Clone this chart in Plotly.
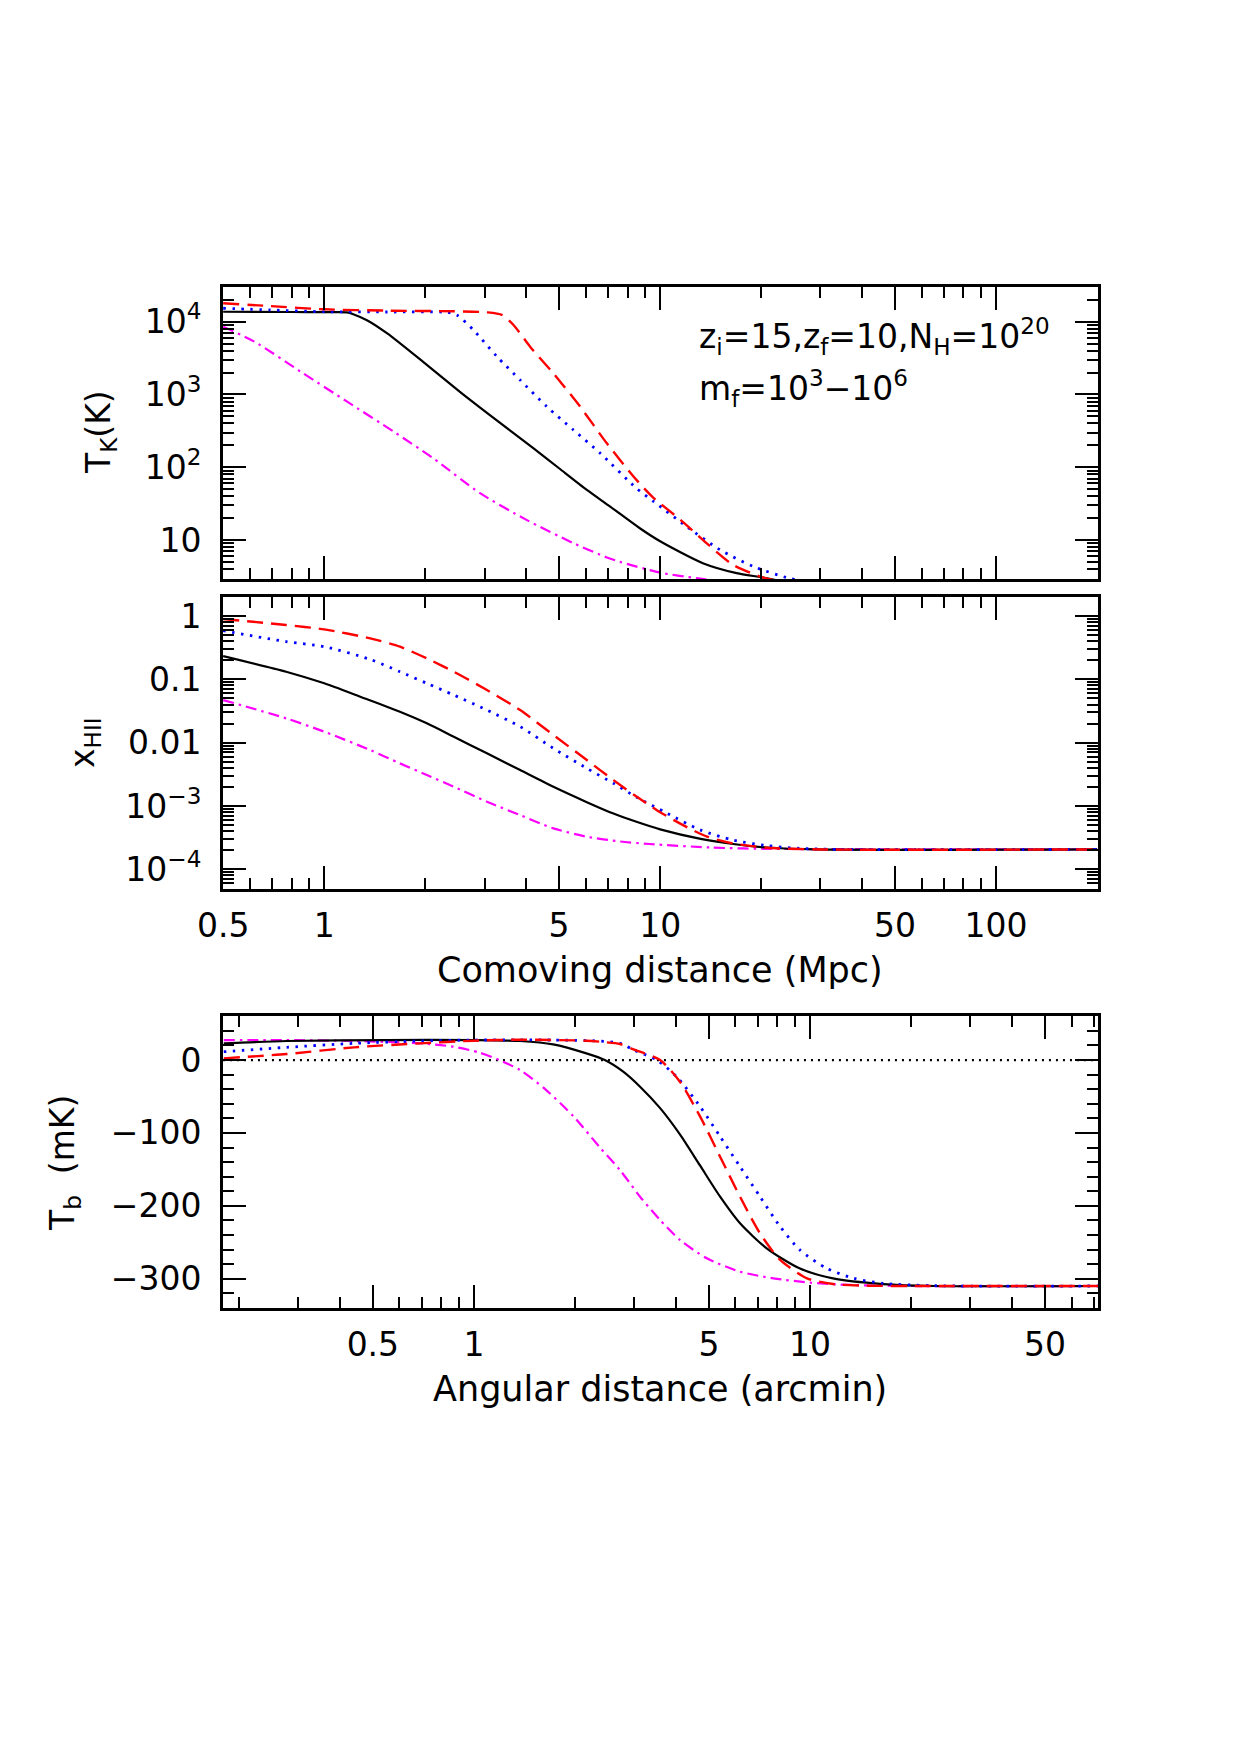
import plotly.graph_objects as go

W, H = 1240, 1755

# ---------------- data ----------------
# Panel 1: kinetic temperature T_K (K) vs comoving distance (Mpc)
tk_black_x = [0.5, 0.8, 1.0, 1.17, 1.22, 1.34, 1.54, 2.02, 2.54, 3.05, 4.2, 5.0, 6.05, 7.1, 8.7, 10, 13.4, 16.9, 20.3, 25]
tk_black_y = [13700, 13600, 13500, 13450, 12700, 10500, 6900, 2550, 1080, 560, 182, 96.8, 48.8, 28.8, 14.5, 9.6, 4.8, 3.5, 3.04, 2.5]
tk_red_x = [0.5, 0.69, 1.0, 1.54, 2.43, 3.05, 3.38, 3.66, 4.1, 4.81, 5.78, 6.94, 8.5, 9.55, 11.5, 13.8, 16.5, 20.3, 25]
tk_red_y = [17900, 16400, 14800, 14200, 13900, 13450, 12400, 9020, 4540, 1950, 679, 213, 67, 38, 18.9, 8.9, 4.55, 3.04, 2.5]
tk_blue_x = [0.5, 0.69, 1.0, 1.54, 2.32, 2.48, 2.78, 3.27, 3.83, 4.6, 5.52, 6.63, 8.5, 9.55, 12, 15.1, 19, 24.4, 30]
tk_blue_y = [15300, 14500, 13700, 13600, 13450, 12400, 7690, 3300, 1580, 679, 325, 156, 51.4, 34, 15.3, 7.3, 4.3, 2.95, 2.5]
tk_mag_x = [0.5, 0.62, 0.85, 1.17, 1.61, 2.11, 2.91, 4.0, 5.52, 6.94, 7.6, 10, 12.8, 16]
tk_mag_y = [8530, 5310, 2060, 796, 308, 133, 44, 18.9, 9.04, 5.75, 5.0, 3.56, 2.99, 2.63]

# Panel 2: ionized fraction x_HII vs comoving distance (Mpc)
xh_red_x = [0.5, 0.77, 1.0, 1.37, 1.68, 2.02, 2.43, 3.05, 3.83, 4.81, 6.05, 7.26, 8.5, 9.8, 11.7, 13.8, 16.5, 20.8, 30, 200]
xh_red_y = [0.897, 0.721, 0.615, 0.443, 0.328, 0.214, 0.132, 0.0678, 0.0327, 0.0132, 0.00531, 0.00256, 0.00141,
            0.000851, 0.000499, 0.000327, 0.000256, 0.000219, 0.000206, 0.000206]
xh_blue_x = [0.5, 0.77, 1.0, 1.37, 1.68, 2.02, 2.43, 3.05, 3.83, 4.81, 6.05, 7.26, 8.5, 10.5, 13.2, 16.5, 20.8, 26, 35, 200]
xh_blue_y = [0.586, 0.394, 0.328, 0.2065, 0.132, 0.0865, 0.0565, 0.0327, 0.0179, 0.00813, 0.00393, 0.00228, 0.00138,
             0.000764, 0.000416, 0.000289, 0.000236, 0.000214, 0.000206, 0.000206]
xh_black_x = [0.5, 0.77, 1.0, 1.28, 1.68, 2.02, 2.43, 3.05, 3.83, 4.81, 6.05, 7.26, 8.5, 10, 13.2, 16.5, 20.8, 29, 200]
xh_black_y = [0.233, 0.132, 0.0865, 0.0532, 0.0308, 0.0202, 0.0124, 0.00678, 0.00369, 0.00201, 0.00115, 0.000759,
              0.000562, 0.000427, 0.000302, 0.000251, 0.000221, 0.000206, 0.000206]
xh_mag_x = [0.5, 0.77, 1.0, 1.37, 1.68, 2.02, 2.43, 3.05, 3.83, 4.81, 6.05, 7.6, 9.3, 14.1, 20, 200]
xh_mag_y = [0.0471, 0.0242, 0.0149, 0.00764, 0.00471, 0.00308, 0.00201, 0.00117, 0.000718, 0.000443, 0.000327,
            0.000275, 0.000251, 0.000221, 0.000211, 0.000206]

# Panel 3: brightness temperature T_b (mK) vs angular distance (arcmin)
tb_black_x = [0.18, 0.277, 0.55, 1.0, 1.37, 1.72, 2.16, 2.45, 2.78, 3.12, 3.58, 4.1, 4.71, 5.4, 6.19, 7.43, 9.3, 11.7, 16.5, 23.3, 72]
tb_black_y = [22.9, 26.1, 27.4, 27.4, 26.1, 21.5, 9.1, 0, -16, -36.6, -66, -102, -145, -187.5, -224, -258.3,
              -285.7, -299.5, -307.3, -310, -310]
tb_red_x = [0.18, 0.277, 0.44, 0.69, 1.0, 1.37, 2.16, 2.37, 2.72, 2.98, 3.58, 4.1, 4.71, 5.4, 6.19, 7.1, 8.15, 9.8, 11.7, 14.7, 20, 72]
tb_red_y = [2.3, 8.2, 17.4, 22.9, 26.5, 27.9, 26.5, 25.1, 22, 14.6, 0, -29.7, -77.7, -132.6, -187.5, -237.8, -274.3,
            -299.5, -307.3, -309.6, -310, -310]
tb_blue_x = [0.18, 0.277, 0.44, 0.69, 1.0, 1.72, 2.37, 2.72, 2.98, 3.5, 4.01, 4.71, 5.4, 6.19, 7.1, 8.15, 9.33, 11.2, 13.5, 16.5, 23.3, 72]
tb_blue_y = [11.4, 17.4, 22.9, 26.1, 27.4, 27.4, 26, 23, 14, 0, -22.9, -64, -105, -146.3, -187.5, -228.6, -260.6,
             -285.7, -299.5, -306.4, -309.6, -310]
tb_mag_x = [0.18, 0.277, 0.44, 0.69, 0.867, 1.04, 1.19, 1.37, 1.64, 1.98, 2.37, 2.72, 3.12, 3.58, 4.1, 4.93, 6.19, 7.78, 10, 13.2, 20, 72]
tb_mag_y = [27.4, 27.4, 26.1, 22.9, 18.3, 10.1, 0, -13.7, -41.2, -77.7, -120, -151, -187.5, -219.5, -246.9, -272,
            -290.4, -299.5, -305.4, -308.6, -310, -310]
tb_zero_x = [0.179, 72]
tb_zero_y = [0, 0]

# tick labels
dist_tickvals = [0.5, 1, 5, 10, 50, 100]
dist_ticktext = ["0.5", "1", "5", "10", "50", "100"]
dist_minor = [0.6, 0.7, 0.8, 0.9, 2, 3, 4, 6, 7, 8, 9, 20, 30, 40, 60, 70, 80, 90, 200]
tk_tickvals = [10, 100, 1000, 10000]
tk_ticktext = ["10", "10<sup>2</sup>", "10<sup>3</sup>", "10<sup>4</sup>"]
xh_tickvals = [1, 0.1, 0.01, 0.001, 0.0001]
xh_ticktext = ["1", "0.1", "0.01", "10<sup>\u22123</sup>", "10<sup>\u22124</sup>"]
ang_tickvals = [0.5, 1, 5, 10, 50]
ang_ticktext = ["0.5", "1", "5", "10", "50"]
ang_minor = [0.2, 0.3, 0.4, 0.6, 0.7, 0.8, 0.9, 2, 3, 4, 6, 7, 8, 9, 20, 30, 40, 60, 70]
tb_tickvals = [0, -100, -200, -300]
tb_ticktext = ["0", "\u2212100", "\u2212200", "\u2212300"]


def log_minor(lo_exp, hi_exp):
    out = []
    for e in range(lo_exp, hi_exp + 1):
        for m in range(2, 10):
            out.append(m * 10.0 ** e)
    return out


tk_minor = log_minor(0, 4)
xh_minor = log_minor(-5, 0)

# ---------------- styles ----------------
FONT = "DejaVu Sans"
RED = "#ff0000"
BLUE = "#0000ff"
MAG = "#ff00ff"
BLK = "#000000"
STY = {
    "black": dict(color=BLK, width=2.2),
    "red": dict(color=RED, width=2.4, dash="16px,8px"),
    "blue": dict(color=BLUE, width=2.8, dash="2.5px,6.5px"),
    "mag": dict(color=MAG, width=2.2, dash="11px,5px,2.5px,5px"),
}


def px_x(p):
    return p / W


def px_y(p):
    return 1 - p / H


fig = go.Figure()


def add(x, y, sty, ax):
    line = dict(STY[sty])
    line.update(shape="spline", smoothing=0.7)
    fig.add_trace(go.Scatter(x=x, y=y, mode="lines", line=line, xaxis="x" + ax, yaxis="y" + ax,
                             showlegend=False, hoverinfo="skip"))


add(tk_mag_x, tk_mag_y, "mag", "")
add(tk_black_x, tk_black_y, "black", "")
add(tk_blue_x, tk_blue_y, "blue", "")
add(tk_red_x, tk_red_y, "red", "")

add(xh_mag_x, xh_mag_y, "mag", "2")
add(xh_black_x, xh_black_y, "black", "2")
add(xh_blue_x, xh_blue_y, "blue", "2")
add(xh_red_x, xh_red_y, "red", "2")

fig.add_trace(go.Scatter(x=tb_zero_x, y=tb_zero_y, mode="lines", line=dict(color=BLK, width=2.2, dash="2px,5px"),
                         xaxis="x3", yaxis="y3", showlegend=False, hoverinfo="skip"))
add(tb_mag_x, tb_mag_y, "mag", "3")
add(tb_black_x, tb_black_y, "black", "3")
add(tb_blue_x, tb_blue_y, "blue", "3")
add(tb_red_x, tb_red_y, "red", "3")

XL, XR = px_x(223), px_x(1098)
P1 = [px_y(579), px_y(287)]
P2 = [px_y(889), px_y(596.7)]
P3 = [px_y(1308.3), px_y(1016)]

TICKFONT = dict(family=FONT, size=33, color=BLK)


def axis(**kw):
    base = dict(showline=True, linewidth=3, linecolor=BLK, mirror="allticks", ticks="inside", ticklen=23,
                tickwidth=2, tickcolor=BLK, showgrid=False, zeroline=False, tickmode="array",
                tickfont=TICKFONT, ticklabelstandoff=12, automargin=False)
    base.update(kw)
    return base


def minor(vals):
    return dict(ticks="inside", ticklen=11, tickwidth=2, tickcolor=BLK, tickmode="array", tickvals=vals,
                showgrid=False)


fig.update_layout(
    width=W, height=H, margin=dict(l=0, r=0, t=0, b=0, autoexpand=False),
    paper_bgcolor="white", plot_bgcolor="white",
    xaxis=axis(type="log", domain=[XL, XR], range=[-0.3015, 2.3036], anchor="y",
               tickvals=dist_tickvals, ticktext=dist_ticktext, showticklabels=False, minor=minor(dist_minor)),
    yaxis=axis(type="log", domain=P1, range=[0.464, 4.477], anchor="x",
               tickvals=tk_tickvals, ticktext=tk_ticktext, minor=minor(tk_minor)),
    xaxis2=axis(type="log", domain=[XL, XR], range=[-0.3015, 2.3036], anchor="y2",
                tickvals=dist_tickvals, ticktext=dist_ticktext, minor=minor(dist_minor), ticklabelstandoff=5),
    yaxis2=axis(type="log", domain=P2, range=[-4.311, 0.305], anchor="x2",
                tickvals=xh_tickvals, ticktext=xh_ticktext, minor=minor(xh_minor)),
    xaxis3=axis(type="log", domain=[XL, XR], range=[-0.747, 1.857], anchor="y3",
                tickvals=ang_tickvals, ticktext=ang_ticktext, minor=minor(ang_minor), ticklabelstandoff=5),
    yaxis3=axis(domain=P3, range=[-340.6, 60.4], anchor="x3",
                tickvals=tb_tickvals, ticktext=tb_ticktext, minor=dict(ticks="inside", ticklen=11, tickwidth=2,
                                                                       tickcolor=BLK, dtick=20, tick0=0,
                                                                       showgrid=False)),
)

ann_font = dict(family=FONT, size=35, color=BLK)
annotations = [
    dict(text="Comoving distance (Mpc)", x=px_x(660), y=px_y(970), xanchor="center", yanchor="middle",
         font=ann_font),
    dict(text="Angular distance (arcmin)", x=px_x(660), y=px_y(1389), xanchor="center", yanchor="middle",
         font=ann_font),
    dict(text="T<sub>K</sub>(K)", x=px_x(100), y=px_y(432), textangle=-90, xanchor="center", yanchor="middle",
         font=dict(family=FONT, size=33, color=BLK)),
    dict(text="x<sub>HII</sub>", x=px_x(84), y=px_y(743), textangle=-90, xanchor="center", yanchor="middle",
         font=dict(family=FONT, size=33, color=BLK)),
    dict(text="T<sub>b</sub>  (mK)", x=px_x(64), y=px_y(1163), textangle=-90, xanchor="center",
         yanchor="middle", font=dict(family=FONT, size=33, color=BLK)),
    dict(text="z<sub>i</sub>=15,z<sub>f</sub>=10,N<sub>H</sub>=10<sup>20</sup>", x=px_x(697), y=px_y(336),
         xanchor="left", yanchor="middle", font=dict(family=FONT, size=33, color=BLK)),
    dict(text="m<sub>f</sub>=10<sup>3</sup>\u221210<sup>6</sup>", x=px_x(697), y=px_y(389),
         xanchor="left", yanchor="middle", font=dict(family=FONT, size=33, color=BLK)),
]
for a in annotations:
    a.update(xref="paper", yref="paper", showarrow=False)
fig.update_layout(annotations=annotations)

fig.write_html("out.html")
